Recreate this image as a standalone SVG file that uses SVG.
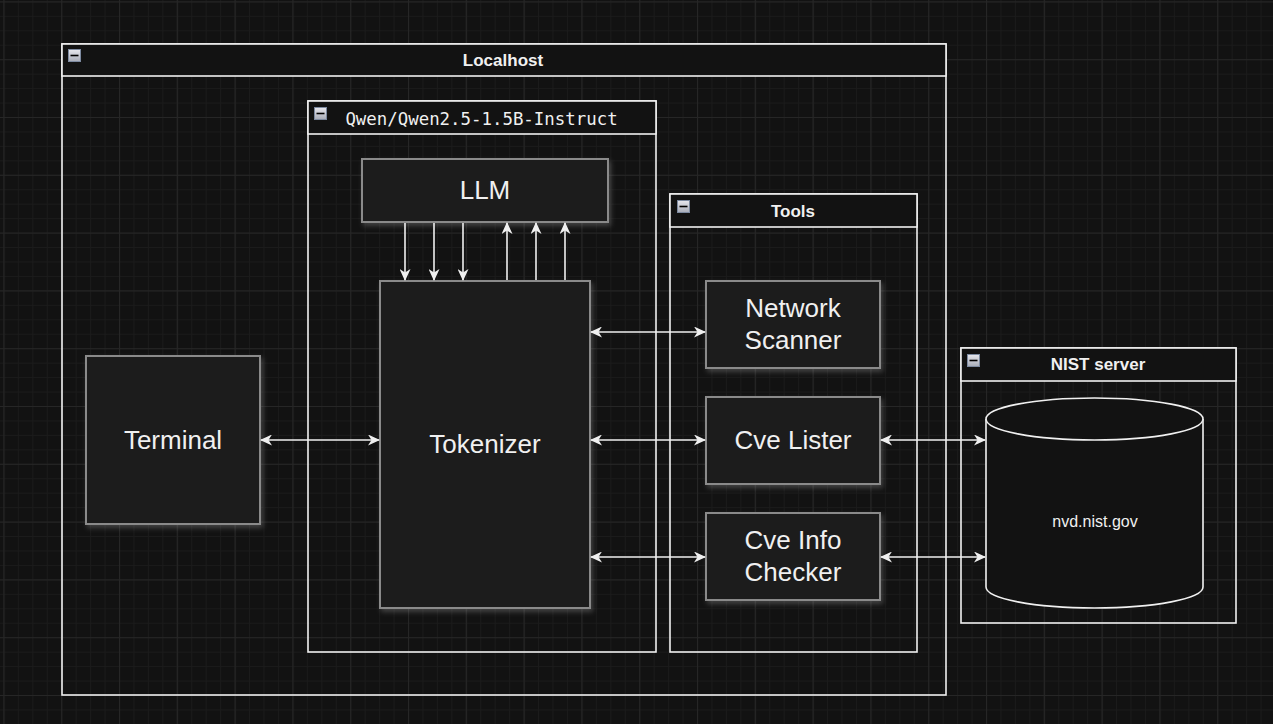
<svg xmlns="http://www.w3.org/2000/svg" width="1273" height="724" viewBox="0 0 1273 724">
<defs>
<pattern id="minor" x="3.4" y="1.4" width="14.45" height="14.45" patternUnits="userSpaceOnUse">
<path d="M0 0.5H14.45M0.5 0V14.45" stroke="#1b1b1b" stroke-width="1" fill="none"/>
</pattern>
<pattern id="major" x="3.4" y="1.4" width="57.8" height="57.8" patternUnits="userSpaceOnUse">
<path d="M0 0.5H57.8M0.5 0V57.8" stroke="#262626" stroke-width="1.2" fill="none"/>
</pattern>
<linearGradient id="ig" x1="0" y1="0" x2="0" y2="1">
<stop offset="0" stop-color="#e8e8ee"/>
<stop offset="1" stop-color="#a8acb8"/>
</linearGradient>
<g id="minus">
<rect x="0.5" y="0.5" width="12" height="12" fill="url(#ig)" stroke="#7d8aa0" stroke-width="1"/>
<path d="M2.5 6.5H10.5" stroke="#000" stroke-width="1.6"/>
</g>
<filter id="glow" x="-20%" y="-20%" width="140%" height="140%">
<feGaussianBlur in="SourceAlpha" stdDeviation="2.5" result="b"/>
<feOffset dx="2" dy="3" result="o"/>
<feFlood flood-color="#9a9a9a" flood-opacity="0.35"/>
<feComposite in2="o" operator="in" result="s"/>
<feMerge><feMergeNode in="s"/><feMergeNode in="SourceGraphic"/></feMerge>
</filter>
<marker id="ah" viewBox="0 0 12 11" refX="11" refY="5.5" markerWidth="12" markerHeight="11" markerUnits="userSpaceOnUse" orient="auto-start-reverse">
<path d="M0 0L12 5.5L0 11L3.5 5.5Z" fill="#f0f0f0"/>
</marker>
<style>
.cont{fill:none;stroke:#f0f0f0;stroke-width:1.6}
.hdr{fill:#121212;stroke:#f0f0f0;stroke-width:1.6}
.ttl{font-family:"Liberation Sans",Arial,sans-serif;font-weight:bold;font-size:17px;fill:#f0f0f0;text-anchor:middle}
.mono{font-family:"DejaVu Sans Mono",monospace;font-size:17.4px;fill:#f0f0f0;text-anchor:middle}
.node{fill:#1a1a1a;stroke:#8a8a8a;stroke-width:2;filter:url(#glow)}
.lbl{font-family:"Liberation Sans",Arial,sans-serif;font-size:26px;fill:#f0f0f0;text-anchor:middle}
.edge{fill:none;stroke:#f0f0f0;stroke-width:1.6;marker-end:url(#ah)}
.both{marker-start:url(#ah)}
</style>
</defs>
<rect width="1273" height="724" fill="#121212"/>
<rect width="1273" height="724" fill="url(#minor)"/>
<rect width="1273" height="724" fill="url(#major)"/>

<g id="localhost">
<rect class="cont" x="62" y="44" width="884" height="651"/>
<rect class="hdr" x="62" y="44" width="884" height="32"/>
<use href="#minus" x="68" y="49"/>
<text class="ttl" x="503" y="66">Localhost</text>
</g>

<g id="qwen">
<rect class="cont" x="308" y="101" width="348" height="551"/>
<rect class="hdr" x="308" y="101" width="348" height="33"/>
<use href="#minus" x="314" y="107"/>
<text class="mono" x="481.5" y="125">Qwen/Qwen2.5-1.5B-Instruct</text>
</g>

<g id="tools">
<rect class="cont" x="670" y="194" width="247" height="458"/>
<rect class="hdr" x="670" y="194" width="247" height="33"/>
<use href="#minus" x="677" y="200"/>
<text class="ttl" x="793" y="217">Tools</text>
</g>

<g id="nist">
<rect class="cont" x="961" y="348" width="275" height="275"/>
<rect class="hdr" x="961" y="348" width="275" height="33"/>
<use href="#minus" x="967" y="354"/>
<text class="ttl" x="1098" y="370">NIST server</text>
</g>

<g id="llm">
<rect class="node" x="362" y="159" width="246" height="63"/>
<text class="lbl" x="485" y="199">LLM</text>
</g>

<g id="tokenizer">
<rect class="node" x="380" y="281" width="210" height="327"/>
<text class="lbl" x="485" y="453">Tokenizer</text>
</g>

<g id="terminal">
<rect class="node" x="86" y="356" width="174" height="168"/>
<text class="lbl" x="173" y="449">Terminal</text>
</g>

<g id="network-scanner">
<rect class="node" x="706" y="281" width="174" height="87"/>
<text class="lbl" x="793" y="317">Network</text>
<text class="lbl" x="793" y="349">Scanner</text>
</g>

<g id="cve-lister">
<rect class="node" x="706" y="397" width="174" height="87"/>
<text class="lbl" x="793" y="449">Cve Lister</text>
</g>

<g id="cve-info-checker">
<rect class="node" x="706" y="513" width="174" height="87"/>
<text class="lbl" x="793" y="549">Cve Info</text>
<text class="lbl" x="793" y="581">Checker</text>
</g>

<g id="nvd">
<path d="M986 419V587A108.5 21 0 0 0 1203 587V419" fill="#121212" stroke="#f0f0f0" stroke-width="1.6"/>
<ellipse cx="1094.5" cy="419" rx="108.5" ry="21" fill="#121212" stroke="#f0f0f0" stroke-width="1.6"/>
<text x="1095" y="527" font-family="Liberation Sans,Arial,sans-serif" font-size="16" fill="#f0f0f0" text-anchor="middle">nvd.nist.gov</text>
</g>

<g id="connectors">
<path class="edge" d="M405 223V280"/>
<path class="edge" d="M434 223V280"/>
<path class="edge" d="M463 223V280"/>
<path class="edge" d="M507 280V223"/>
<path class="edge" d="M536 280V223"/>
<path class="edge" d="M565 280V223"/>
<path class="edge both" d="M261 440H379"/>
<path class="edge both" d="M591 332H705"/>
<path class="edge both" d="M591 440H705"/>
<path class="edge both" d="M591 557H705"/>
<path class="edge both" d="M881 440H985"/>
<path class="edge both" d="M881 557H985"/>
</g>
</svg>
